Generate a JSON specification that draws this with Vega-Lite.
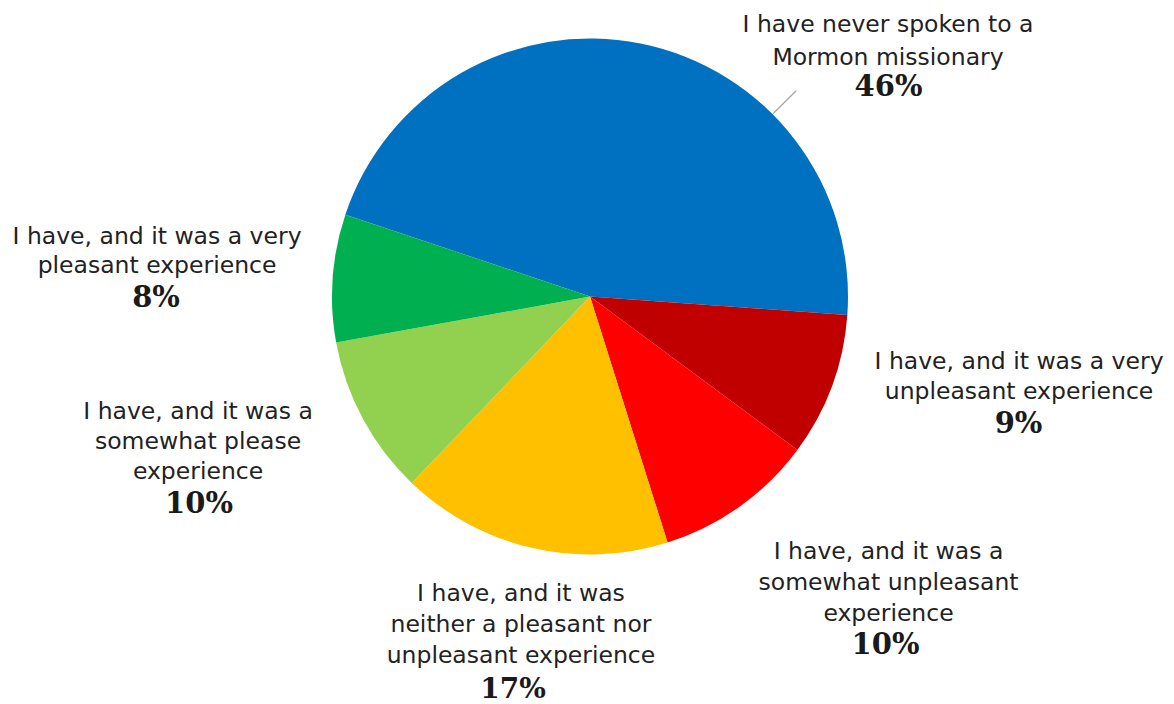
{
  "$schema": "https://vega.github.io/schema/vega-lite/v6.json",
  "autosize": {"type": "none"},
  "padding": {"left": 6, "top": 0, "right": 0, "bottom": 111},
  "width": 1168,
  "height": 593,
  "background": "white",
  "config": {"view": {"stroke": null}},
  "data": {
    "values": [
      {"rank": 1, "key": "never", "desc": "I have never spoken to a\nMormon missionary", "value": 46, "pct": "46%"},
      {"rank": 2, "key": "vunp", "desc": "I have, and it was a very\nunpleasant experience", "value": 9, "pct": "9%"},
      {"rank": 3, "key": "sunp", "desc": "I have, and it was a\nsomewhat unpleasant\nexperience", "value": 10, "pct": "10%"},
      {"rank": 4, "key": "neither", "desc": "I have, and it was\nneither a pleasant nor\nunpleasant experience", "value": 17, "pct": "17%"},
      {"rank": 5, "key": "spl", "desc": "I have, and it was a\nsomewhat please\nexperience", "value": 10, "pct": "10%"},
      {"rank": 6, "key": "vpl", "desc": "I have, and it was a very\npleasant experience", "value": 8, "pct": "8%"}
    ]
  },
  "encoding": {
    "theta": {"field": "value", "type": "quantitative", "stack": true, "scale": {"range": [5.0353, 11.3185]}},
    "order": {"field": "rank", "type": "quantitative", "sort": "ascending"},
    "detail": {"field": "key", "type": "nominal"}
  },
  "layer": [
    {
      "mark": {"type": "arc", "radius": 258},
      "encoding": {
        "color": {"field": "key", "type": "nominal", "legend": null,
          "scale": {"domain": ["never", "vunp", "sunp", "neither", "spl", "vpl"],
                    "range": ["#0070C0", "#C00000", "#FF0000", "#FFC000", "#92D050", "#00B050"]}}
      }
    },
    {
      "transform": [{"filter": "datum.rank === 1"}],
      "mark": {"type": "arc", "theta": 0.7854, "theta2": 0.7874, "radius": 259, "radius2": 291, "fill": "#A6A6A6", "stroke": "#A6A6A6", "strokeWidth": 1},
      "encoding": {"theta": null, "order": null, "detail": null}
    },
    {"mark": {"type": "text", "radius": 320, "dx": 235.3, "dy": 41.8, "font": "DejaVu Sans", "fontSize": 23.5, "lineHeight": 33, "lineBreak": "\n", "align": "center", "baseline": "middle", "fill": "#222222"},
     "encoding": {"text": {"condition": {"test": "datum.key === 'never'", "field": "desc"}, "value": ""}}},
    {"mark": {"type": "text", "radius": 320, "dx": 128.9, "dy": -45.5, "font": "DejaVu Sans", "fontSize": 23.5, "lineHeight": 30, "lineBreak": "\n", "align": "center", "baseline": "middle", "fill": "#222222"},
     "encoding": {"text": {"condition": {"test": "datum.key === 'vunp'", "field": "desc"}, "value": ""}}},
    {"mark": {"type": "text", "radius": 320, "dx": 112.7, "dy": -5.5, "font": "DejaVu Sans", "fontSize": 23.5, "lineHeight": 31, "lineBreak": "\n", "align": "center", "baseline": "middle", "fill": "#222222"},
     "encoding": {"text": {"condition": {"test": "datum.key === 'sunp'", "field": "desc"}, "value": ""}}},
    {"mark": {"type": "text", "radius": 320, "dx": 3.5, "dy": -13.7, "font": "DejaVu Sans", "fontSize": 23.5, "lineHeight": 31, "lineBreak": "\n", "align": "center", "baseline": "middle", "fill": "#222222"},
     "encoding": {"text": {"condition": {"test": "datum.key === 'neither'", "field": "desc"}, "value": ""}}},
    {"mark": {"type": "text", "radius": 320, "dx": -110.2, "dy": -36.2, "font": "DejaVu Sans", "fontSize": 23.5, "lineHeight": 30, "lineBreak": "\n", "align": "center", "baseline": "middle", "fill": "#222222"},
     "encoding": {"text": {"condition": {"test": "datum.key === 'spl'", "field": "desc"}, "value": ""}}},
    {"mark": {"type": "text", "radius": 320, "dx": -113.8, "dy": -36.3, "font": "DejaVu Sans", "fontSize": 23.5, "lineHeight": 29, "lineBreak": "\n", "align": "center", "baseline": "middle", "fill": "#222222"},
     "encoding": {"text": {"condition": {"test": "datum.key === 'vpl'", "field": "desc"}, "value": ""}}},
    {"mark": {"type": "text", "radius": 320, "dx": 235.8, "dy": 104, "font": "DejaVu Serif", "fontWeight": "bold", "fontSize": 29, "align": "center", "baseline": "middle", "fill": "#1a1a1a"},
     "encoding": {"text": {"condition": {"test": "datum.key === 'never'", "field": "pct"}, "value": ""}}},
    {"mark": {"type": "text", "radius": 320, "dx": 128.4, "dy": 16.7, "font": "DejaVu Serif", "fontWeight": "bold", "fontSize": 29, "align": "center", "baseline": "middle", "fill": "#1a1a1a"},
     "encoding": {"text": {"condition": {"test": "datum.key === 'vunp'", "field": "pct"}, "value": ""}}},
    {"mark": {"type": "text", "radius": 320, "dx": 109.7, "dy": 87.7, "font": "DejaVu Serif", "fontWeight": "bold", "fontSize": 29, "align": "center", "baseline": "middle", "fill": "#1a1a1a"},
     "encoding": {"text": {"condition": {"test": "datum.key === 'sunp'", "field": "pct"}, "value": ""}}},
    {"mark": {"type": "text", "radius": 320, "dx": -4.5, "dy": 81.5, "font": "DejaVu Serif", "fontWeight": "bold", "fontSize": 28, "align": "center", "baseline": "middle", "fill": "#1a1a1a"},
     "encoding": {"text": {"condition": {"test": "datum.key === 'neither'", "field": "pct"}, "value": ""}}},
    {"mark": {"type": "text", "radius": 320, "dx": -109.2, "dy": 55.5, "font": "DejaVu Serif", "fontWeight": "bold", "fontSize": 29, "align": "center", "baseline": "middle", "fill": "#1a1a1a"},
     "encoding": {"text": {"condition": {"test": "datum.key === 'spl'", "field": "pct"}, "value": ""}}},
    {"mark": {"type": "text", "radius": 320, "dx": -114.8, "dy": 24.8, "font": "DejaVu Serif", "fontWeight": "bold", "fontSize": 29, "align": "center", "baseline": "middle", "fill": "#1a1a1a"},
     "encoding": {"text": {"condition": {"test": "datum.key === 'vpl'", "field": "pct"}, "value": ""}}}
  ]
}
